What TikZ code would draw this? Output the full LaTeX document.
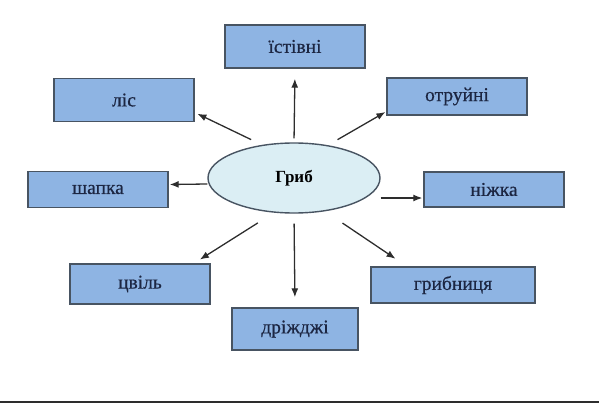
\documentclass[tikz,border=0pt]{standalone}
\usepackage{fontspec}
\setmainfont{Liberation Serif}
\newfontfamily\boxfont{Liberation Serif}[FakeBold=0.5]
\usetikzlibrary{shapes.geometric}
\usetikzlibrary{arrows.meta}
\definecolor{boxblue}{RGB}{142,180,227}
\definecolor{boxline}{RGB}{72,84,98}
\definecolor{ovalfill}{RGB}{219,238,244}
\definecolor{txtnavy}{RGB}{28,38,66}
\definecolor{arrgray}{RGB}{45,45,45}

\begin{document}
\begin{tikzpicture}[x=1pt, y=-1pt,
  box/.style={draw=boxline, line width=1.4pt, fill=boxblue, rectangle, minimum width=140pt, inner sep=0pt, text=txtnavy, font=\boxfont\fontsize{19.5}{19.5}\selectfont},
  arr/.style={draw=arrgray, line width=1.3pt, -{Latex[length=9pt,width=7pt]}}]
  \useasboundingbox (0,0) rectangle (599,404);

  \node[draw=boxline, line width=1.4pt, fill=ovalfill, ellipse, minimum width=172pt, minimum height=70pt, inner sep=0pt, text=black, font=\bfseries\fontsize{17}{17}\selectfont] (grib) at (294,178) {Гриб};

  \node[box, minimum height=43pt] (istivni) at (295,46.5) {їстівні};
  \node[box, minimum height=43pt] (lis) at (124,100) {ліс};
  \node[box, minimum height=37pt] (otruini) at (457,96.5) {отруйні};
  \node[box, minimum height=36pt] (shapka) at (98,189.5) {шапка};
  \node[box, minimum height=35pt] (nizhka) at (494,189.5) {ніжка};
  \node[box, minimum height=40pt] (tsvil) at (140,284) {цвіль};
  \node[box, minimum width=126pt, minimum height=42pt] (drizhdzhi) at (295,329) {дріжджі};
  \node[box, minimum width=164pt, minimum height=36pt] (hrybnytsia) at (453,285) {грибниця};

  \draw[arr, shorten <=12pt, shorten >=3pt] (grib.134) -- (lis.-10);
  \draw[arr, shorten <=4pt, shorten >=10pt] (grib.north) -- (istivni.south);
  \draw[arr, shorten <=11pt, shorten >=1pt] (grib.44) -- (otruini.192);
  \draw[arr, shorten >=1pt] ([yshift=-6pt]grib.west) -- ([yshift=5pt]shapka.east);
  \draw[arr, shorten >=1pt] ([yshift=-20pt]grib.east) -- ([yshift=-8.5pt]nizhka.west);
  \draw[arr, shorten <=19pt, shorten >=7pt] (grib.240) -- (tsvil.21);
  \draw[arr, shorten <=10pt, shorten >=10pt] (grib.south) -- (drizhdzhi.north);
  \draw[arr, shorten <=21pt, shorten >=13.5pt] (grib.313) -- (hrybnytsia.158);

  \draw[arrgray, line width=2pt] (0,402) -- (599,402);
\end{tikzpicture}
\end{document}
